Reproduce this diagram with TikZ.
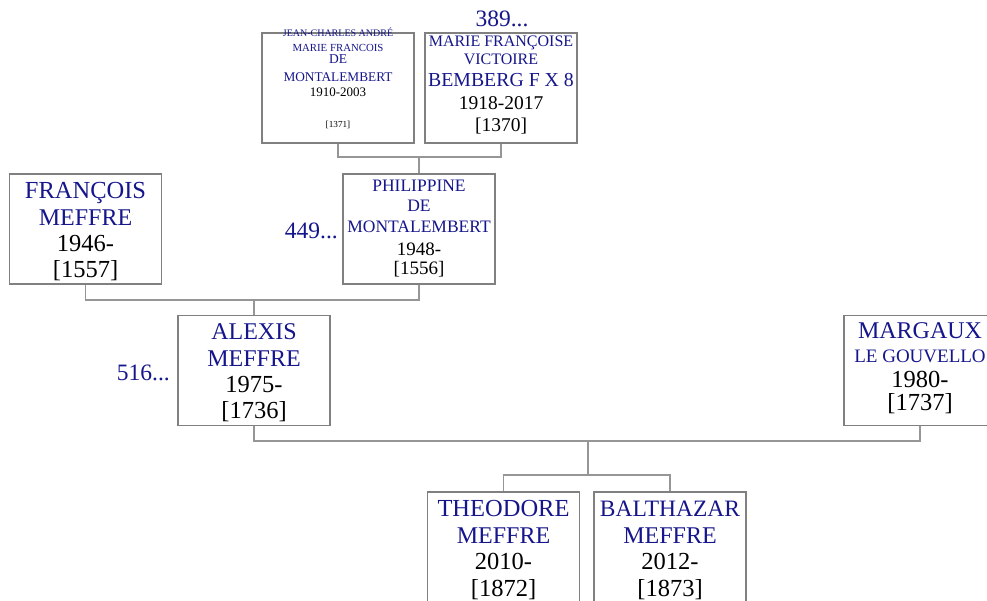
\documentclass[tikz,border=0pt]{standalone}
\usepackage{fontspec}
\setmainfont{Liberation Serif}
\definecolor{nb}{RGB}{22,22,140}
\definecolor{bx}{RGB}{128,128,128}
\definecolor{ln}{RGB}{150,150,150}
\newcommand\fs[1]{\fontsize{#1}{#1}\selectfont}
\newcommand\nm[1]{\textcolor{nb}{#1}}
\newcommand\rs[1]{\noalign{\vskip#1}}
\newcommand\stk[1]{\vtop{\baselineskip=0pt\lineskip=0pt\lineskiplimit=-\maxdimen\halign{\hfil##\hfil\cr#1\crcr}}}
\begin{document}
\begin{tikzpicture}[x=1pt,y=-1pt,
  box/.style={draw=bx, line width=1.1pt, minimum width=152pt, minimum height=110pt, inner sep=0pt, fill=white},
  txt/.style={anchor=base, inner sep=0pt},
  link/.style={draw=ln, line width=1.1pt},
  num/.style={inner sep=0pt, text=nb, font=\fs{23.5}}]
\useasboundingbox[fill=white] (0,0) rectangle (987,601);
% boxes
\node[box] (jc) at (338,88) {};
\node[box] (mf) at (501,88) {};
\node[box] (fr) at (85.5,229) {};
\node[box] (ph) at (419,229) {};
\node[box] (al) at (254,370.5) {};
\node[box] (mg) at (920,370.5) {};
\node[box, minimum height=114pt] (th) at (503.5,549) {};
\node[box, minimum height=114pt] (bl) at (670,549) {};
% texts
\node[txt] (jct) at (338,37) {\stk{\fs{10}\nm{JEAN-CHARLES ANDRÉ}\cr\rs{15pt}\fs{10.8}\nm{MARIE FRANCOIS}\cr\rs{12pt}\fs{13.5}\nm{DE}\cr\rs{18pt}\fs{13.3}\nm{MONTALEMBERT}\cr\rs{15pt}\fs{13}1910-2003\cr\rs{31pt}\fs{9.2}[1371]}};
\node[txt] (mft) at (501,47) {\stk{\fs{16}\nm{MARIE FRANÇOISE}\cr\rs{18pt}\fs{16}\nm{VICTOIRE}\cr\rs{22pt}\fs{19.8}\nm{BEMBERG F X 8}\cr\rs{23pt}\fs{19.5}1918-2017\cr\rs{22pt}\fs{19.5}[1370]}};
\node[txt] (frt) at (85.5,199) {\stk{\fs{24.5}\nm{FRANÇOIS}\cr\rs{27pt}\fs{24}\nm{MEFFRE}\cr\rs{26pt}\fs{24.5}1946-\cr\rs{26pt}\fs{24.5}[1557]}};
\node[txt] (pht) at (419,192) {\stk{\fs{17.5}\nm{PHILIPPINE}\cr\rs{20pt}\fs{17.5}\nm{DE}\cr\rs{21pt}\fs{17.5}\nm{MONTALEMBERT}\cr\rs{23pt}\fs{19}1948-\cr\rs{19pt}\fs{19}[1556]}};
\node[txt] (alt) at (254,339) {\stk{\fs{24}\nm{ALEXIS}\cr\rs{27pt}\fs{24}\nm{MEFFRE}\cr\rs{26pt}\fs{24.5}1975-\cr\rs{26pt}\fs{24.5}[1736]}};
\node[txt] (mgt) at (920,338) {\stk{\fs{24}\nm{MARGAUX}\cr\rs{24pt}\fs{19}\nm{LE GOUVELLO}\cr\rs{25pt}\fs{24.5}1980-\cr\rs{23pt}\fs{24.5}[1737]}};
\node[txt] (tht) at (503.5,516) {\stk{\fs{24.5}\nm{THEODORE}\cr\rs{27pt}\fs{24}\nm{MEFFRE}\cr\rs{26pt}\fs{24.5}2010-\cr\rs{27pt}\fs{24.5}[1872]}};
\node[txt] (blt) at (670,516) {\stk{\fs{23.5}\nm{BALTHAZAR}\cr\rs{27pt}\fs{24}\nm{MEFFRE}\cr\rs{26pt}\fs{24.5}2012-\cr\rs{27pt}\fs{24.5}[1873]}};
% outside numbers
\node[num, anchor=base] (n389) at (502,27) {389...};
\node[num, anchor=base east] (n449) at (338,239) {449...};
\node[num, anchor=base east] (n516) at (170,380) {516...};
% connectors
\coordinate (p1) at (419,157);
\draw[link] (jc.south) |- (p1) -| (mf.south);
\draw[link] (p1) -- (ph.north);
\coordinate (p2) at (254,300);
\draw[link] (fr.south) |- (p2) -| (ph.south);
\draw[link] (p2) -- (al.north);
\coordinate (p3) at (588,441);
\draw[link] (al.south) |- (p3) -| (mg.south);
\coordinate (p4) at (588,475);
\draw[link] (p3) -- (p4);
\draw[link] (th.north) |- (p4) -| (bl.north);
\end{tikzpicture}
\end{document}
